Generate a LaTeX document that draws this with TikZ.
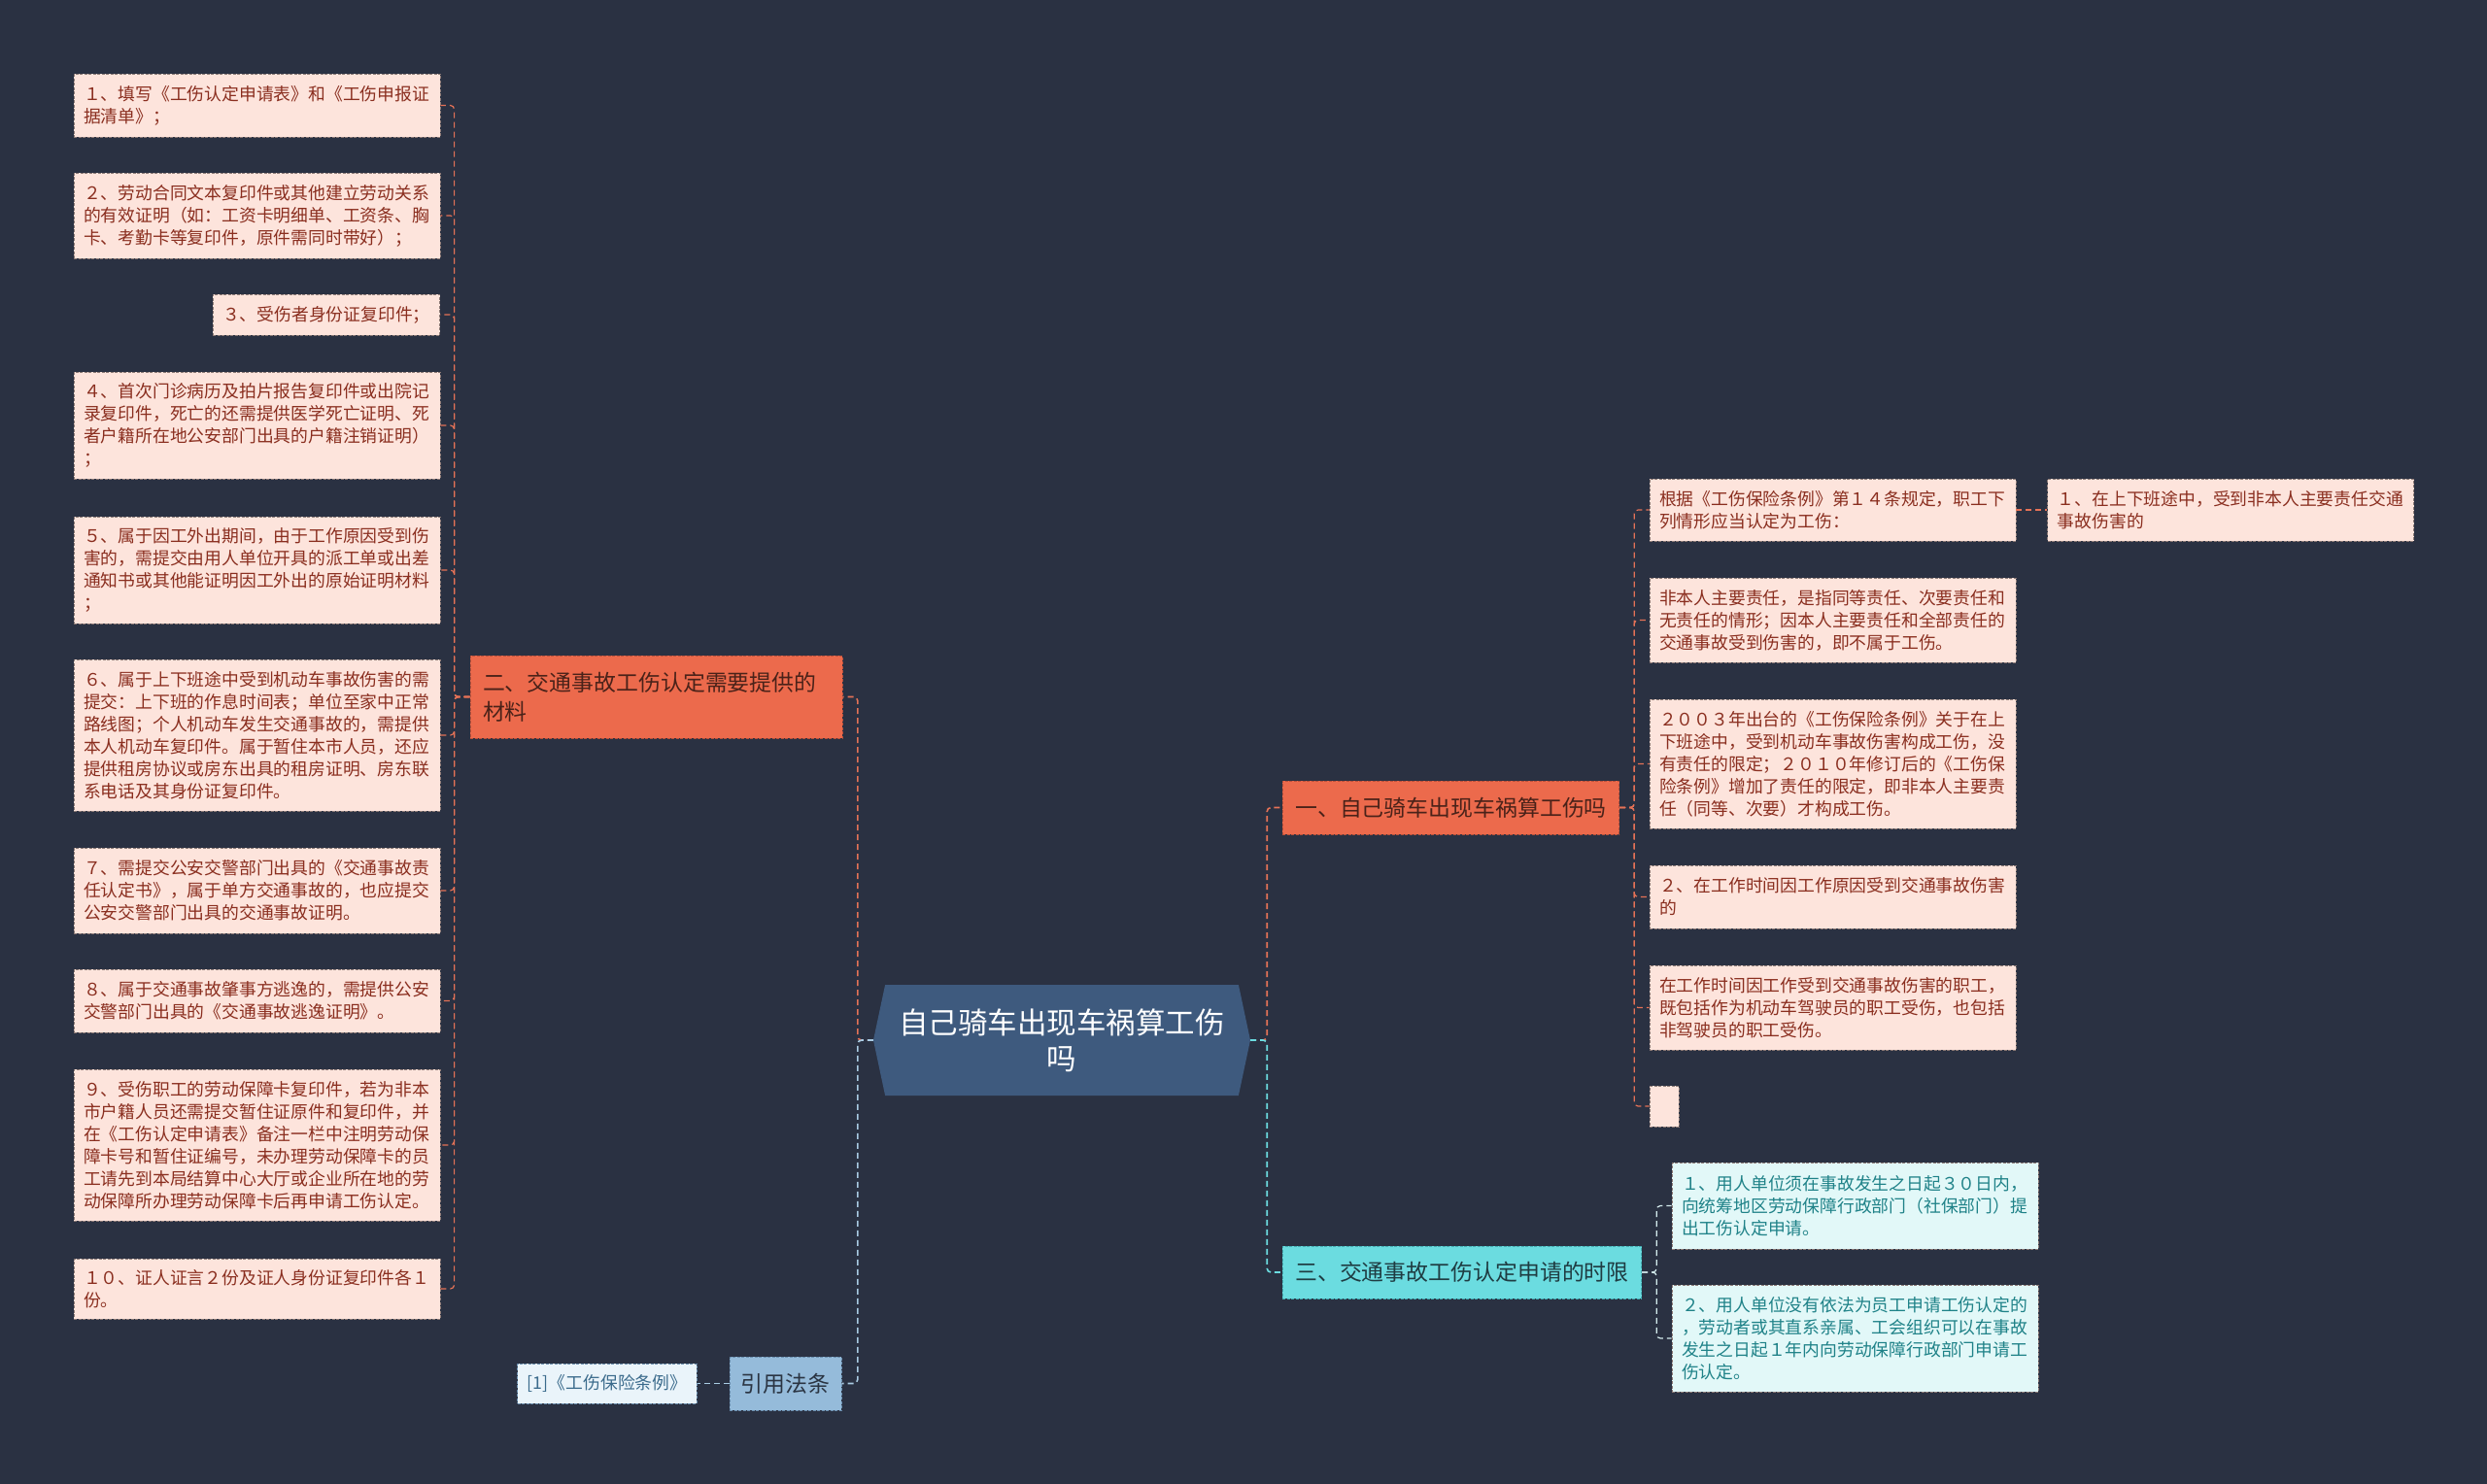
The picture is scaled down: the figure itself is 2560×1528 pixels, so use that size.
\documentclass[tikz,border=0pt]{standalone}
\usepackage{fontspec}
\setmainfont{Noto Sans CJK SC}
\usepackage{tikz}
\usetikzlibrary{positioning, shapes.symbols}

\definecolor{bgnavy}{HTML}{2A3142}
\definecolor{leafpink}{HTML}{FDE4DC}
\definecolor{leaftext}{HTML}{8A2E1F}
\definecolor{leafline}{HTML}{8C7A76}
\definecolor{topicorange}{HTML}{EC6A4C}
\definecolor{topicline}{HTML}{B9503A}
\definecolor{topictext}{HTML}{4A2219}
\definecolor{rootblue}{HTML}{3E5A7E}
\definecolor{topiccyan}{HTML}{6BDCE0}
\definecolor{cyanline}{HTML}{45AEB3}
\definecolor{cyantext}{HTML}{1F3C42}
\definecolor{leafcyan}{HTML}{E2F8F8}
\definecolor{leafcyantext}{HTML}{1F8288}
\definecolor{lawblue}{HTML}{95BBDA}
\definecolor{lawline}{HTML}{6A8EAE}
\definecolor{lawtext}{HTML}{2A3442}
\definecolor{citefill}{HTML}{EAF4FA}
\definecolor{citetext}{HTML}{3B6B8C}
\definecolor{linkorange}{HTML}{E57257}
\definecolor{linkcyan}{HTML}{6BDCE0}
\definecolor{linkwhite}{HTML}{D4ECEE}
\definecolor{linkblue}{HTML}{A9CBE3}

\begin{document}
\begin{tikzpicture}[
        x=1pt, y=-1pt,
        node distance=32pt,
        leafbase/.style={rectangle, draw=leafline, line width=0.8pt, dash pattern=on 3pt off 1.5pt, fill=leafpink, text=leaftext, font=\fontsize{17.8pt}{23pt}\selectfont, align=left, inner xsep=10pt, inner ysep=0pt},
        leaf/.style={leafbase, text width=357pt},
        cyanleaf/.style={leaf, fill=leafcyan, text=leafcyantext},
        topic/.style={rectangle, draw=topicline, line width=0.8pt, dash pattern=on 3pt off 1.5pt, fill=topicorange, text=topictext, font=\fontsize{22.9pt}{30pt}\selectfont, align=left, inner xsep=13pt, inner ysep=0pt},
        rootnode/.style={signal, signal to=west and east, signal pointer angle=156, fill=rootblue, text=white, font=\fontsize{30.5pt}{37pt}\selectfont, align=center, text width=340pt, minimum width=388pt, minimum height=114pt, inner sep=0pt},
        link/.style={line width=1.6pt, dash pattern=on 6pt off 4pt, rounded corners=4pt},
        olink/.style={link, draw=linkorange},
        clink/.style={link, draw=linkcyan},
        wlink/.style={link, draw=linkwhite, line width=1.2pt},
        blink/.style={link, draw=linkblue}
    ]
    \useasboundingbox (0,0) rectangle (2560,1528);
    \fill[bgnavy] (0,0) rectangle (2560,1528);

    % 中心
    \node[rootnode] (root) at (1093,1071) {自己骑车出现车祸算工伤\\吗};

    % 左侧
    \node[topic, text width=357pt, minimum height=85pt] (t2) at (675.5,717.5) {二、交通事故工伤认定需要提供的\\材料};
    \node[leaf, minimum height=65pt] (b1) at (264.5,108.5) {１、填写《工伤认定申请表》和《工伤申报证\\据清单》；};
    \node[leaf, minimum height=88pt] (b2) at (264.5,222) {２、劳动合同文本复印件或其他建立劳动关系\\的有效证明（如：工资卡明细单、工资条、胸\\卡、考勤卡等复印件，原件需同时带好）；};
    \node[leafbase, minimum height=42pt, anchor=east] (b3) at (453,324) {３、受伤者身份证复印件；};
    \node[leaf, minimum height=110pt] (b4) at (264.5,438) {４、首次门诊病历及拍片报告复印件或出院记\\录复印件，死亡的还需提供医学死亡证明、死\\者户籍所在地公安部门出具的户籍注销证明）\\；};
    \node[leaf, minimum height=110pt] (b5) at (264.5,587) {５、属于因工外出期间，由于工作原因受到伤\\害的，需提交由用人单位开具的派工单或出差\\通知书或其他能证明因工外出的原始证明材料\\；};
    \node[leaf, minimum height=156pt] (b6) at (264.5,757) {６、属于上下班途中受到机动车事故伤害的需\\提交：上下班的作息时间表；单位至家中正常\\路线图；个人机动车发生交通事故的，需提供\\本人机动车复印件。属于暂住本市人员，还应\\提供租房协议或房东出具的租房证明、房东联\\系电话及其身份证复印件。};
    \node[leaf, minimum height=88pt] (b7) at (264.5,917) {７、需提交公安交警部门出具的《交通事故责\\任认定书》，属于单方交通事故的，也应提交\\公安交警部门出具的交通事故证明。};
    \node[leaf, minimum height=65pt] (b8) at (264.5,1030.5) {８、属于交通事故肇事方逃逸的，需提供公安\\交警部门出具的《交通事故逃逸证明》。};
    \node[leaf, minimum height=156pt] (b9) at (264.5,1179) {９、受伤职工的劳动保障卡复印件，若为非本\\市户籍人员还需提交暂住证原件和复印件，并\\在《工伤认定申请表》备注一栏中注明劳动保\\障卡号和暂住证编号，未办理劳动保障卡的员\\工请先到本局结算中心大厅或企业所在地的劳\\动保障所办理劳动保障卡后再申请工伤认定。};
    \node[leaf, minimum height=62pt] (b10) at (264.5,1327) {１０、证人证言２份及证人身份证复印件各１\\份。};

    \node[topic, fill=lawblue, draw=lawline, text=lawtext, inner xsep=11.7pt, minimum height=55pt] (law) at (808.5,1424.5) {引用法条};
    \node[leafbase, fill=citefill, draw=lawline, text=citetext, minimum height=41pt, left=33pt of law] (cite) {[1]《工伤保险条例》};

    % 右侧
    \node[topic, minimum height=55pt] (t1) at (1493.5,831.5) {一、自己骑车出现车祸算工伤吗};
    \node[leaf, minimum height=64pt] (r1) at (1886.5,525) {根据《工伤保险条例》第１４条规定，职工下\\列情形应当认定为工伤：};
    \node[leaf, minimum height=64pt, right=of r1] (far) {１、在上下班途中，受到非本人主要责任交通\\事故伤害的};
    \node[leaf, minimum height=87pt] (r2) at (1886.5,638.5) {非本人主要责任，是指同等责任、次要责任和\\无责任的情形；因本人主要责任和全部责任的\\交通事故受到伤害的，即不属于工伤。};
    \node[leaf, minimum height=133pt] (r3) at (1886.5,786.5) {２００３年出台的《工伤保险条例》关于在上\\下班途中，受到机动车事故伤害构成工伤，没\\有责任的限定；２０１０年修订后的《工伤保\\险条例》增加了责任的限定，即非本人主要责\\任（同等、次要）才构成工伤。};
    \node[leaf, minimum height=65pt] (r4) at (1886.5,923.5) {２、在工作时间因工作原因受到交通事故伤害\\的};
    \node[leaf, minimum height=87pt] (r5) at (1886.5,1037.5) {在工作时间因工作受到交通事故伤害的职工，\\既包括作为机动车驾驶员的职工受伤，也包括\\非驾驶员的职工受伤。};
    \node[leafbase, minimum width=30pt, minimum height=42pt] (r6) at (1713,1139) {};

    \node[topic, fill=topiccyan, draw=cyanline, text=cyantext, minimum height=54pt] (t3) at (1505,1310) {三、交通事故工伤认定申请的时限};
    \node[cyanleaf, minimum height=89pt] (t3a) at (1909.5,1241.5) {１、用人单位须在事故发生之日起３０日内，\\向统筹地区劳动保障行政部门（社保部门）提\\出工伤认定申请。};
    \node[cyanleaf, minimum height=110pt] (t3b) at (1909.5,1378) {２、用人单位没有依法为员工申请工伤认定的\\，劳动者或其直系亲属、工会组织可以在事故\\发生之日起１年内向劳动保障行政部门申请工\\伤认定。};

    % 连接线
    \draw[olink] (root.west) -- ++(-16,0) |- (t2.east);
    \draw[blink] (root.west) -- ++(-16,0) |- (law.east);
    \draw[olink] (root.east) -- ++(17,0) |- (t1.west);
    \draw[clink] (root.east) -- ++(17,0) |- (t3.west);
    \foreach \n in {b1,b2,b3,b4,b5,b6,b7,b8,b9,b10}
        \draw[olink, line width=1.2pt] (t2.west) -- ++(-16,0) |- (\n.east);
    \foreach \n in {r1,r2,r3,r4,r5,r6}
        \draw[olink, line width=1.2pt] (t1.east) -- ++(15,0) |- (\n.west);
    \draw[olink, line width=1.2pt] (r1.east) -- (far.west);
    \foreach \n in {t3a,t3b}
        \draw[wlink] (t3.east) -- ++(15,0) |- (\n.west);
    \draw[blink, line width=1.2pt] (law.west) -- (cite.east);
\end{tikzpicture}
\end{document}
